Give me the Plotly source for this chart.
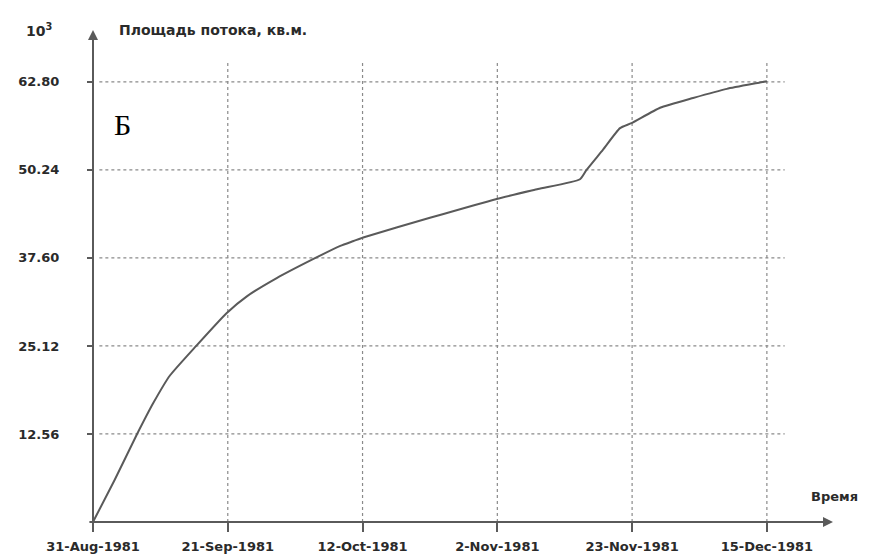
import plotly.graph_objects as go

# Days since 31-Aug-1981
days = [0, 3.4, 6.8, 9.5, 12.1, 16.2, 21.0, 24.2, 28.9, 34.6, 38.9, 41.0, 42.5,
        53.0, 63.5, 70.0, 76.6, 77.6, 80.2, 82.9, 84.7, 89.2, 94.4, 99.7, 104.9, 106.0]
# Flow area, 10^3 sq. m
area = [0, 6.0, 12.3, 17.0, 20.9, 25.1, 29.8, 32.2, 34.8, 37.5, 39.4, 40.1, 40.6,
        43.4, 46.1, 47.5, 48.9, 50.2, 53.1, 56.2, 56.9, 59.1, 60.5, 61.8, 62.7, 62.9]

x_tickvals = [0, 21.2, 42.4, 63.6, 84.8, 106.0]
x_ticktext = ["31-Aug-1981", "21-Sep-1981", "12-Oct-1981", "2-Nov-1981",
              "23-Nov-1981", "15-Dec-1981"]
y_tickvals = [12.56, 25.12, 37.68, 50.24, 62.80]
y_ticktext = ["12.56", "25.12", "37.60", "50.24", "62.80"]

X_MAX = 116.4
Y_MAX = 70.2
GRID_X_END = 108.8
GRID_Y_END = 65.6

line_col = "#5a5a5a"
grid_col = "#8a8a8a"
text_col = "#2a2a2a"
tick_font = dict(family="DejaVu Sans", size=13, color=text_col, weight="bold")

fig = go.Figure()
fig.add_trace(go.Scatter(x=days, y=area, mode="lines",
                         line=dict(color=line_col, width=2, shape="spline", smoothing=0.5),
                         showlegend=False, cliponaxis=False))

shapes = []
for yv in y_tickvals:
    shapes.append(dict(type="line", xref="x", yref="y", x0=1.0, x1=GRID_X_END,
                       y0=yv, y1=yv, line=dict(color=grid_col, width=1.2, dash="dot"),
                       layer="below"))
for xv in x_tickvals[1:]:
    shapes.append(dict(type="line", xref="x", yref="y", x0=xv, x1=xv,
                       y0=0, y1=GRID_Y_END, line=dict(color=grid_col, width=1.2, dash="dot"),
                       layer="below"))

annotations = [
    # axes with arrowheads
    dict(x=X_MAX, y=0, ax=-0.8, ay=0, xref="x", yref="y", axref="x", ayref="y",
         showarrow=True, arrowhead=2, arrowsize=1, arrowwidth=2, arrowcolor=line_col, text=""),
    dict(x=0, y=Y_MAX, ax=0, ay=-1.1, xref="x", yref="y", axref="x", ayref="y",
         showarrow=True, arrowhead=2, arrowsize=1, arrowwidth=2, arrowcolor=line_col, text=""),
    dict(x=-0.093, y=1.0, xref="paper", yref="paper", text="10<sup>3</sup>",
         showarrow=False, xanchor="left", yanchor="middle",
         font=dict(family="DejaVu Sans", size=14, color=text_col, weight="bold")),
    dict(x=0.033, y=1.0, xref="paper", yref="paper", text="Площадь потока, кв.м.",
         showarrow=False, xanchor="left", yanchor="middle",
         font=dict(family="DejaVu Sans", size=14, color=text_col, weight="bold")),
    dict(x=0.967, y=0.051, xref="paper", yref="paper", text="Время",
         showarrow=False, xanchor="left", yanchor="middle",
         font=dict(family="DejaVu Sans", size=13, color=text_col, weight="bold")),
    dict(x=0.026, y=0.808, xref="paper", yref="paper", text="Б",
         showarrow=False, xanchor="left", yanchor="middle",
         font=dict(family="Liberation Serif", size=30, color="#000000")),
]

fig.update_layout(
    width=853, height=549,
    margin=dict(l=85, r=28, t=22, b=35, autoexpand=False),
    paper_bgcolor="white", plot_bgcolor="white",
    shapes=shapes, annotations=annotations,
    xaxis=dict(range=[0, X_MAX], showgrid=False, zeroline=False, showline=False,
               tickmode="array", tickvals=x_tickvals, ticktext=x_ticktext,
               ticks="outside", ticklen=9, tickwidth=2, tickcolor=line_col,
               ticklabelstandoff=3, tickfont=tick_font),
    yaxis=dict(range=[0, Y_MAX], showgrid=False, zeroline=False, showline=False,
               tickmode="array", tickvals=y_tickvals, ticktext=y_ticktext,
               ticks="outside", ticklen=5, tickwidth=2, tickcolor=line_col,
               ticklabelstandoff=25, tickfont=tick_font),
)

fig.write_html("out.html")
